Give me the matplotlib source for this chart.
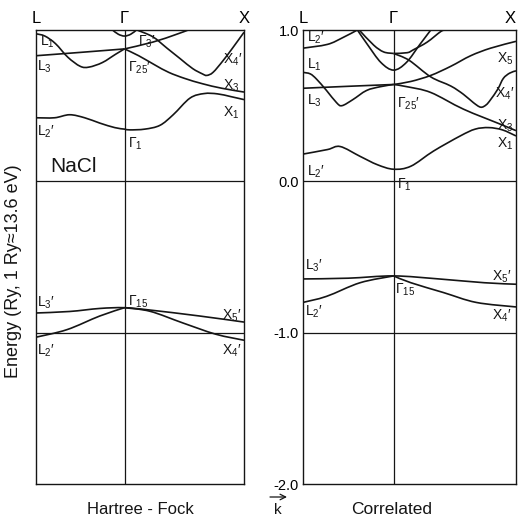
import numpy as np
import matplotlib.pyplot as plt
from matplotlib.path import Path
from matplotlib.patches import PathPatch

plt.rcParams['font.family'] = ['Liberation Sans', 'DejaVu Sans']
plt.rcParams['mathtext.default'] = 'regular'

# k axis: L = 0, Gamma = 1, X = K_X
K_X = 2.35
sym_ticks = [0.0, 1.0, K_X]
sym_labels = ['L', 'Γ', 'X']
energy_ticks = [1.0, 0.0, -1.0, -2.0]
energy_labels = ['1.0', '0.0', '-1.0', '-2.0']

# ---- Hartree-Fock bands (energy in Ry) ----
hf_l1_k = [0, 0.1, 0.22, 0.36, 0.5, 0.6, 0.75, 0.9, 1.0]
hf_l1_e = [0.975, 0.96, 0.91, 0.82, 0.76, 0.755, 0.785, 0.84, 0.875]
hf_l3_k = [0, 0.5, 1.0]
hf_l3_e = [0.83, 0.852, 0.875]
hf_arc_k = [0.865, 0.93, 1.0, 1.07, 1.135]
hf_arc_e = [1.0, 0.972, 0.96, 0.972, 1.0]
hf_up_k = [1.0, 1.32, 1.58, 1.72]
hf_up_e = [0.875, 0.92, 0.97, 1.0]
hf_x3_k = [1.0, 1.16, 1.34, 1.5, 1.68, 1.88, 2.1, 2.35]
hf_x3_e = [0.875, 0.83, 0.77, 0.72, 0.68, 0.645, 0.615, 0.59]
hf_x4_k = [1.14, 1.32, 1.48, 1.63, 1.77, 1.88, 1.93, 2.0, 2.11, 2.22, 2.35]
hf_x4_e = [1.0, 0.955, 0.88, 0.81, 0.745, 0.71, 0.70, 0.72, 0.795, 0.88, 0.985]
hf_l2_k = [0, 0.21, 0.38, 0.55, 0.72, 0.89, 1.0, 1.06, 1.23, 1.4, 1.55, 1.74, 1.9, 2.05, 2.2, 2.35]
hf_l2_e = [0.42, 0.42, 0.44, 0.42, 0.385, 0.355, 0.345, 0.34, 0.345, 0.37, 0.44, 0.55, 0.58, 0.578, 0.56, 0.54]
hf_v1_k = [0, 0.38, 0.72, 1.0, 1.28, 1.85, 2.35]
hf_v1_e = [-0.87, -0.86, -0.84, -0.835, -0.85, -0.89, -0.93]
hf_v2a_k = [0, 0.35, 0.72, 1.0]
hf_v2a_e = [-1.03, -0.98, -0.89, -0.835]
hf_v2b_k = [1.0, 1.29, 1.66, 2.03, 2.35]
hf_v2b_e = [-0.835, -0.859, -0.936, -1.01, -1.05]

# ---- correlated bands ----
co_l2u_k = [0, 0.27, 0.44, 0.6]
co_l2u_e = [0.88, 0.905, 0.95, 1.0]
co_deep_k = [0.6, 0.71, 0.86, 1.0, 1.14, 1.29, 1.41]
co_deep_e = [1.0, 0.905, 0.785, 0.735, 0.785, 0.905, 1.0]
co_shl_k = [0.62, 0.78, 0.89, 1.0]
co_shl_e = [1.0, 0.90, 0.855, 0.845]
co_shr_k = [1.0, 1.15, 1.22, 1.37, 1.52, 1.57]
co_shr_e = [0.845, 0.85, 0.87, 0.92, 0.99, 1.0]
co_x4_k = [1.0, 1.17, 1.41, 1.63, 1.77, 1.88, 1.96, 2.02, 2.07, 2.15, 2.21, 2.28, 2.35]
co_x4_e = [0.845, 0.80, 0.69, 0.63, 0.575, 0.52, 0.49, 0.505, 0.54, 0.61, 0.68, 0.715, 0.73]
co_l1_k = [0, 0.08, 0.15, 0.26, 0.37, 0.43, 0.55, 0.70, 0.85, 1.0]
co_l1_e = [0.72, 0.71, 0.675, 0.60, 0.52, 0.50, 0.54, 0.60, 0.625, 0.64]
co_l3_k = [0, 0.5, 1.0]
co_l3_e = [0.615, 0.628, 0.64]
co_x5_k = [1.0, 1.19, 1.41, 1.63, 1.85, 2.07, 2.35]
co_x5_e = [0.64, 0.66, 0.70, 0.76, 0.83, 0.88, 0.925]
co_x3_k = [1.0, 1.15, 1.41, 1.77, 2.18, 2.35]
co_x3_e = [0.64, 0.625, 0.587, 0.477, 0.377, 0.335]
co_l2_k = [0, 0.27, 0.41, 0.63, 0.82, 1.0, 1.19, 1.44, 1.735, 1.9, 2.05, 2.2, 2.35]
co_l2_e = [0.18, 0.21, 0.23, 0.165, 0.11, 0.08, 0.10, 0.20, 0.30, 0.345, 0.355, 0.34, 0.30]
co_v1_k = [0, 0.5, 1.0, 1.5, 2.0, 2.35]
co_v1_e = [-0.645, -0.64, -0.625, -0.645, -0.67, -0.68]
co_v2a_k = [0, 0.26, 0.63, 1.0]
co_v2a_e = [-0.80, -0.76, -0.67, -0.625]
co_v2b_k = [1.0, 1.19, 1.55, 1.91, 2.35]
co_v2b_e = [-0.625, -0.67, -0.735, -0.80, -0.83]

hf_bands = [(hf_l1_k, hf_l1_e), (hf_l3_k, hf_l3_e), (hf_arc_k, hf_arc_e),
            (hf_up_k, hf_up_e), (hf_x3_k, hf_x3_e), (hf_x4_k, hf_x4_e),
            (hf_l2_k, hf_l2_e), (hf_v1_k, hf_v1_e), (hf_v2a_k, hf_v2a_e),
            (hf_v2b_k, hf_v2b_e)]
co_bands = [(co_l2u_k, co_l2u_e), (co_deep_k, co_deep_e), (co_shl_k, co_shl_e),
            (co_shr_k, co_shr_e), (co_x4_k, co_x4_e), (co_l1_k, co_l1_e),
            (co_l3_k, co_l3_e), (co_x5_k, co_x5_e), (co_x3_k, co_x3_e),
            (co_l2_k, co_l2_e), (co_v1_k, co_v1_e), (co_v2a_k, co_v2a_e),
            (co_v2b_k, co_v2b_e)]


def band_path(k, e):
    # Catmull-Rom curve through the points, as cubic Bezier segments
    pts = np.column_stack([k, e]).astype(float)
    verts = [pts[0]]
    codes = [Path.MOVETO]
    n = len(pts)
    for i in range(n - 1):
        p0 = pts[i - 1] if i > 0 else pts[i]
        p1, p2 = pts[i], pts[i + 1]
        p3 = pts[i + 2] if i + 2 < n else pts[i + 1]
        verts += [p1 + (p2 - p0) / 6, p2 - (p3 - p1) / 6, p2]
        codes += [Path.CURVE4] * 3
    return Path(verts, codes)


W, H = 519, 516
fig = plt.figure(figsize=(W / 100, H / 100), dpi=100)


def axes_px(x0, x1, y0, y1):
    return fig.add_axes([x0 / W, 1 - y1 / H, (x1 - x0) / W, (y1 - y0) / H])


ax_hf = axes_px(36, 244, 30, 484)
ax_co = axes_px(303, 516, 30, 484)

ink = '#151515'
for ax, bands in [(ax_hf, hf_bands), (ax_co, co_bands)]:
    ax.set_xlim(0, K_X)
    ax.set_ylim(-2, 1)
    for s in ax.spines.values():
        s.set_linewidth(1.0)
        s.set_color(ink)
    ax.axvline(1.0, color=ink, lw=0.9)
    ax.axhline(0.0, color=ink, lw=0.9)
    ax.axhline(-1.0, color=ink, lw=0.9)
    ax.set_xticks(sym_ticks)
    ax.set_xticklabels(sym_labels, fontsize=12)
    ax.tick_params(axis='x', top=True, bottom=False, labeltop=True,
                   labelbottom=False, length=0, pad=3)
    for k, e in bands:
        ax.add_patch(PathPatch(band_path(k, e), fill=False, ec=ink, lw=1.2))

# keep the right-hand X inside the figure edge
ax_co.get_xticklabels()[-1].set_ha('right')

ax_hf.set_yticks([])
ax_co.set_yticks(energy_ticks)
ax_co.set_yticklabels(energy_labels, fontsize=10.5)
ax_co.tick_params(axis='y', length=0, pad=3)

fs = 10


def lab(ax, k, e, s):
    ax.text(k, e, s, fontsize=fs, ha='left', va='center', color=ink)


# Hartree-Fock labels
lab(ax_hf, 0.05, 0.92, 'L$_1$')
lab(ax_hf, 0.01, 0.76, 'L$_3$')
lab(ax_hf, 1.15, 0.92, 'Γ$_3$′')
lab(ax_hf, 1.04, 0.75, 'Γ$_{25}$′')
lab(ax_hf, 2.11, 0.80, 'X$_4$′')
lab(ax_hf, 2.11, 0.63, 'X$_3$')
lab(ax_hf, 2.11, 0.45, 'X$_1$')
lab(ax_hf, 0.01, 0.33, 'L$_2$′')
lab(ax_hf, 1.04, 0.25, 'Γ$_1$')
lab(ax_hf, 0.01, -0.80, 'L$_3$′')
lab(ax_hf, 1.04, -0.795, 'Γ$_{15}$')
lab(ax_hf, 2.10, -0.887, 'X$_5$′')
lab(ax_hf, 0.01, -1.12, 'L$_2$′')
lab(ax_hf, 2.10, -1.12, 'X$_4$′')
ax_hf.text(0.16, 0.10, 'NaCl', fontsize=15, ha='left', va='center', color=ink)

# correlated labels
lab(ax_co, 0.04, 0.947, 'L$_2$′')
lab(ax_co, 0.04, 0.77, 'L$_1$')
lab(ax_co, 0.04, 0.53, 'L$_3$')
lab(ax_co, 1.04, 0.51, 'Γ$_{25}$′')
lab(ax_co, 2.14, 0.81, 'X$_5$')
lab(ax_co, 2.12, 0.58, 'X$_4$′')
lab(ax_co, 2.14, 0.37, 'X$_3$')
lab(ax_co, 2.14, 0.25, 'X$_1$')
lab(ax_co, 0.04, 0.066, 'L$_2$′')
lab(ax_co, 1.04, -0.026, 'Γ$_1$')
lab(ax_co, 0.02, -0.56, 'L$_3$′')
lab(ax_co, 2.09, -0.63, 'X$_5$′')
lab(ax_co, 1.02, -0.72, 'Γ$_{15}$')
lab(ax_co, 0.02, -0.86, 'L$_2$′')
lab(ax_co, 2.09, -0.89, 'X$_4$′')

fig.text(14 / W, 1 - 271 / H, 'Energy (Ry, 1 Ry≈13.6 eV)', rotation=90,
         ha='center', va='center', fontsize=13, color=ink)
fig.text(140 / W, 1 - 509 / H, 'Hartree - Fock', ha='center', va='center',
         fontsize=12, color=ink)
fig.text(392 / W, 1 - 509 / H, 'Correlated', ha='center', va='center',
         fontsize=12.5, color=ink)
fig.text(278 / W, 1 - 510 / H, 'k', ha='center', va='center', fontsize=11,
         color=ink)
ax_hf.annotate('', xy=(287 / W, 1 - 497 / H), xytext=(270 / W, 1 - 497 / H),
               xycoords='figure fraction', textcoords='figure fraction',
               arrowprops=dict(arrowstyle='->', lw=0.9, color=ink,
                               shrinkA=0, shrinkB=0))

fig.savefig('out.png', dpi=100)
